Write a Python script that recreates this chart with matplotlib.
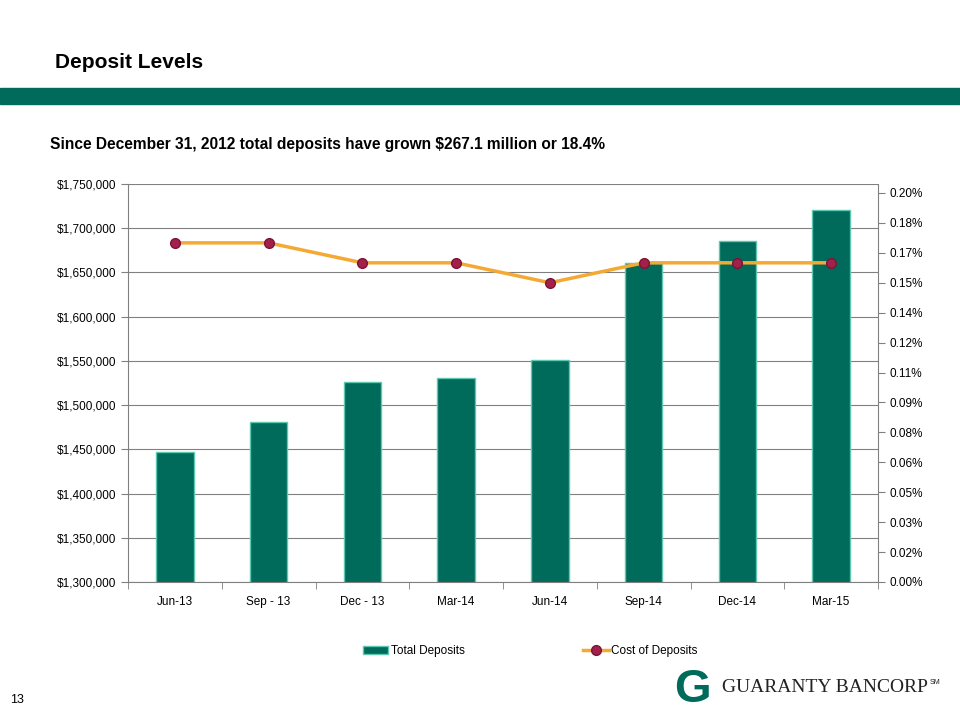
import matplotlib
matplotlib.use('Agg')
import matplotlib.pyplot as plt
from matplotlib.ticker import FuncFormatter, MultipleLocator
from matplotlib.patches import Rectangle

categories = ['Jun-13', 'Sep - 13', 'Dec - 13', 'Mar-14', 'Jun-14', 'Sep-14', 'Dec-14', 'Mar-15']
total_deposits = [1447000, 1481000, 1526000, 1531000, 1551000, 1661000, 1686000, 1721000]
cost_of_deposits = [0.17, 0.17, 0.16, 0.16, 0.15, 0.16, 0.16, 0.16]
right_ticks = [0.0, 0.015, 0.03, 0.045, 0.06, 0.075, 0.09, 0.105, 0.12, 0.135, 0.15, 0.165, 0.18, 0.195]

green = '#006B5A'
plt.rcParams['font.family'] = ['Liberation Sans', 'DejaVu Sans']

fig = plt.figure(figsize=(9.6, 7.2), dpi=100)

# header
fig.text(55/960, 1 - 62/720, 'Deposit Levels', fontsize=15, fontweight='bold', va='center')
fig.patches.append(Rectangle((0, 1 - 104/720), 1, 16/720, transform=fig.transFigure, color=green, zorder=0))
fig.text(50/960, 1 - 145/720, 'Since December 31, 2012 total deposits have grown $267.1 million or 18.4%',
         fontsize=11.2, fontweight='bold', va='center')

ax = fig.add_axes([128/960, 1 - 582/720, 750/960, 398/720])
x = range(len(categories))
bars = ax.bar(x, total_deposits, width=0.4, color=green, edgecolor='#5fc6b0', linewidth=1.0,
              label='Total Deposits', zorder=2)
ax.set_ylim(1300000, 1750000)
ax.set_xlim(-0.5, len(categories) - 0.5)
ax.yaxis.set_major_locator(MultipleLocator(50000))
ax.yaxis.set_major_formatter(FuncFormatter(lambda v, p: '${:,.0f}'.format(v)))
ax.grid(axis='y', color='#808080', linewidth=0.8, zorder=0)
ax.set_axisbelow(True)
ax.set_xticks(list(x))
ax.set_xticklabels(categories)
ax.set_xticks([i + 0.5 for i in range(-1, len(categories))], minor=True)
ax.tick_params(axis='x', which='major', length=0, pad=10, labelsize=8.5)
ax.tick_params(axis='x', which='minor', length=5, color='#808080')
ax.tick_params(axis='y', length=5, color='#808080', labelsize=8.5)
for s in ['top', 'right']:
    ax.spines[s].set_visible(False)
for s in ['left', 'bottom']:
    ax.spines[s].set_color('#808080')

ax2 = ax.twinx()
ax2.plot(list(x), cost_of_deposits, color='#F4A935', linewidth=2.5, marker='o', markersize=7,
         markerfacecolor='#A3204A', markeredgecolor='#7a1535', label='Cost of Deposits', zorder=3)
ax2.set_ylim(0, 0.1995)
ax2.set_yticks(right_ticks)
ax2.yaxis.set_major_formatter(FuncFormatter(lambda v, p: '{:.2f}%'.format(v + 1e-9)))
ax2.tick_params(axis='y', length=5, color='#808080', labelsize=8.5)
for s in ['top', 'left', 'bottom']:
    ax2.spines[s].set_visible(False)
ax2.spines['right'].set_color('#808080')
ax2.spines['right'].set_visible(True)

h1, l1 = ax.get_legend_handles_labels()
h2, l2 = ax2.get_legend_handles_labels()
fig.legend(h1 + h2, l1 + l2, loc='center', bbox_to_anchor=(530/960, 1 - 651/720), ncol=2,
           frameon=False, fontsize=8.5, columnspacing=10, handlelength=2.2, handletextpad=0.2)

# footer
fig.text(10/960, 1 - 700/720, '13', fontsize=9, va='center')
fig.text(692/960, 1 - 690/720, 'G', fontsize=34, fontweight='bold', color=green, va='center', ha='center')
logo = fig.text(722/960, 1 - 688/720, 'GUARANTY BANCORP', fontsize=14,
                family=['Liberation Serif', 'DejaVu Serif'], color='#222222', va='center')
fig.text(0, 0, '')
plt.annotate('SM', xy=(1, 0.8), xycoords=logo, xytext=(1, 0), textcoords='offset points',
             fontsize=5, color='#222222', va='center', annotation_clip=False)

fig.savefig('out.png', dpi=100)
